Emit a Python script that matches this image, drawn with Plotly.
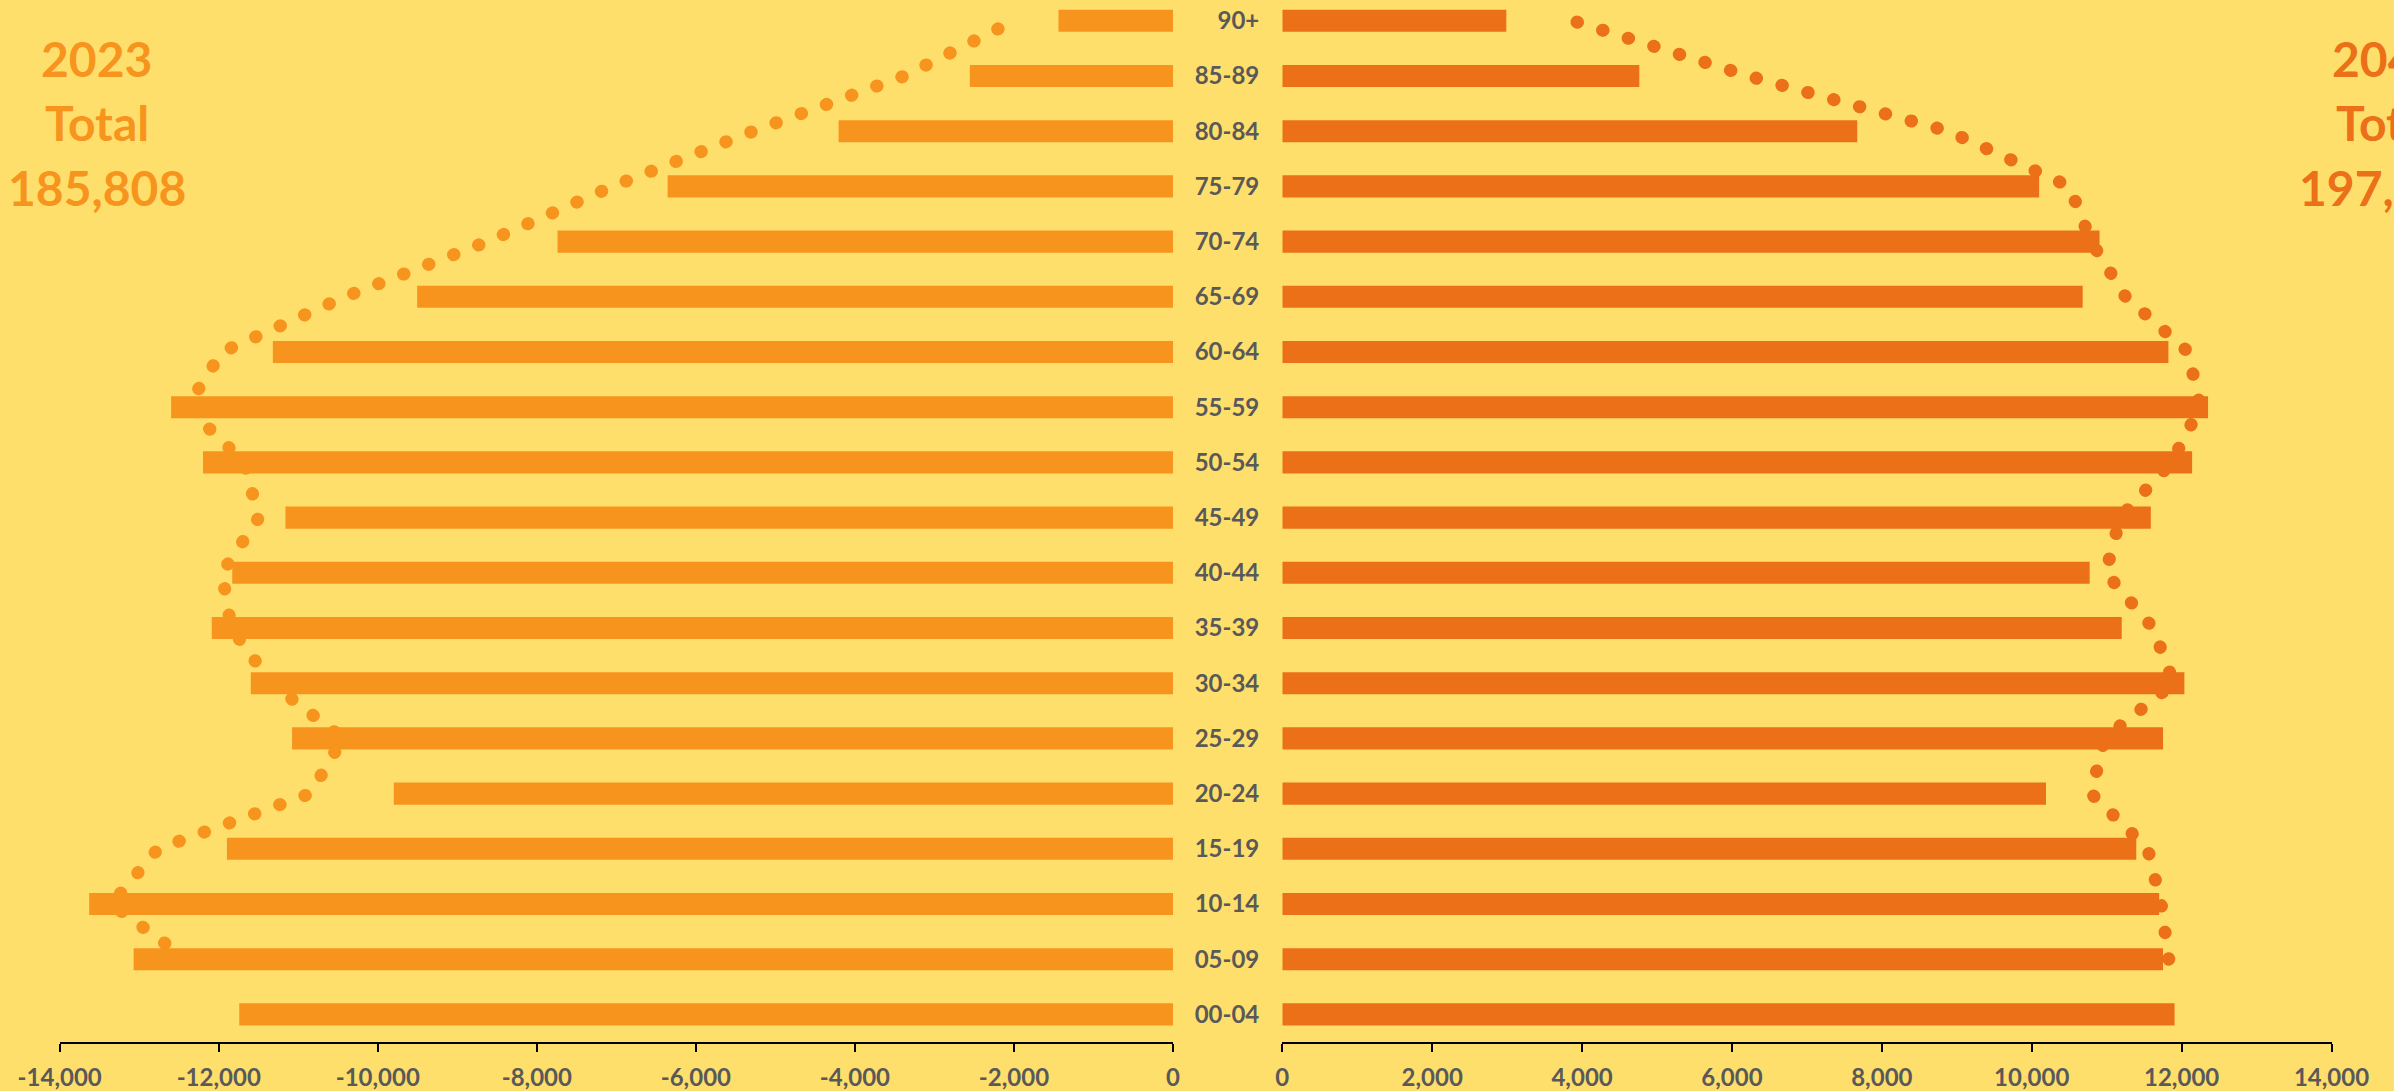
import plotly.graph_objects as go

# ---------------- data ----------------
age_groups = ["00-04", "05-09", "10-14", "15-19", "20-24", "25-29", "30-34",
              "35-39", "40-44", "45-49", "50-54", "55-59", "60-64", "65-69",
              "70-74", "75-79", "80-84", "85-89", "90+"]

pop_2023 = [11742, 13070, 13629, 11897, 9799, 11078, 11597, 12088, 11830, 11161,
            12198, 12599, 11320, 9505, 7740, 6355, 4205, 2555, 1440]
pop_2043 = [11906, 11752, 11701, 11395, 10190, 11752, 12037, 11201, 10773, 11589,
            12140, 12353, 11824, 10680, 10905, 10099, 7672, 4764, 2989]

# dotted trend lines (2-period moving average), read for 05-09 .. 90+
trend_groups = age_groups[1:]
trend_2023 = [12406, 13350, 12763, 10848, 10439, 11338, 11843, 11959, 11496,
              11680, 12399, 11960, 10413, 8623, 7048, 5280, 3380, 1998]
trend_2043 = [11829, 11727, 11548, 10793, 10971, 11895, 11619, 10987, 11181,
              11865, 12247, 12089, 11252, 10793, 10502, 8886, 6218, 3877]

left_tickvals = [-14000, -12000, -10000, -8000, -6000, -4000, -2000, 0]
left_ticktext = ["-14,000", "-12,000", "-10,000", "-8,000", "-6,000", "-4,000", "-2,000", "0"]
right_tickvals = [0, 2000, 4000, 6000, 8000, 10000, 12000, 14000]
right_ticktext = ["0", "2,000", "4,000", "6,000", "8,000", "10,000", "12,000", "14,000"]

left_title = ["2023", "Total", "185,808"]
right_title = ["2043", "Total", "197,722"]

# ---------------- style ----------------
BG = "#FFDF6C"
C_LEFT = "#F7941E"
C_RIGHT = "#EB7018"
GRAY = "#595959"
FONT = "Lato"
W, H = 2394, 1091
MB = 49
PH = H - MB

fig = go.Figure()

fig.add_trace(go.Scatter(
    x=[-v for v in trend_2023], y=trend_groups, xaxis="x", yaxis="y",
    mode="lines", line=dict(color=C_LEFT, width=13, dash="0.5px,26.3px"),
    hoverinfo="skip", showlegend=False))
fig.add_trace(go.Bar(
    x=[-v for v in pop_2023], y=age_groups, orientation="h", xaxis="x", yaxis="y",
    marker=dict(color=C_LEFT, line=dict(width=0)), width=0.4, showlegend=False))

fig.add_trace(go.Scatter(
    x=trend_2043, y=trend_groups, xaxis="x2", yaxis="y2",
    mode="lines", line=dict(color=C_RIGHT, width=13, dash="0.5px,26.3px"),
    hoverinfo="skip", showlegend=False))
fig.add_trace(go.Bar(
    x=pop_2043, y=age_groups, orientation="h", xaxis="x2", yaxis="y2",
    marker=dict(color=C_RIGHT, line=dict(width=0)), width=0.4, showlegend=False))

tickfont = dict(family=FONT, size=24, color=GRAY, weight="bold")
xcommon = dict(showgrid=False, zeroline=False, showline=True, linecolor="black",
               linewidth=2, ticks="outside", ticklen=8, tickwidth=2,
               tickcolor="black", tickfont=tickfont, ticklabelstandoff=5,
               fixedrange=True)
yrange = [-0.5, -0.5 + PH / 55.2]

fig.update_layout(
    width=W, height=H,
    margin=dict(l=0, r=0, t=0, b=MB, autoexpand=False),
    paper_bgcolor=BG, plot_bgcolor=BG,
    xaxis=dict(domain=[59.7 / W, 1173 / W], range=[-14000, 0],
               tickvals=left_tickvals, ticktext=left_ticktext, anchor="y", **xcommon),
    xaxis2=dict(domain=[1282.3 / W, 2331.5 / W], range=[0, 14000],
                tickvals=right_tickvals, ticktext=right_ticktext, anchor="y2", **xcommon),
    yaxis=dict(anchor="x", type="category", categoryorder="array",
               categoryarray=age_groups, range=yrange, showticklabels=False,
               showgrid=False, zeroline=False, showline=False, ticks="",
               fixedrange=True),
    yaxis2=dict(anchor="x2", type="category", categoryorder="array",
                categoryarray=age_groups, range=yrange, showticklabels=True,
                showgrid=False, zeroline=False, showline=False, ticks="",
                tickfont=tickfont, ticklabelstandoff=22, fixedrange=True),
    showlegend=False,
)

line_py = [58.5, 122.5, 187.5]
for txt, py in zip(left_title, line_py):
    fig.add_annotation(text=txt, xref="paper", yref="paper", x=96.5 / W,
                       y=(PH - py) / PH, xanchor="center", yanchor="middle",
                       showarrow=False,
                       font=dict(family=FONT, size=48, color=C_LEFT, weight="bold"))
for txt, py in zip(right_title, line_py):
    fig.add_annotation(text=txt, xref="paper", yref="paper", x=2387.5 / W,
                       y=(PH - py) / PH, xanchor="center", yanchor="middle",
                       showarrow=False,
                       font=dict(family=FONT, size=48, color=C_RIGHT, weight="bold"))

post = ("var s=document.createElement('style');"
        "s.textContent='.scatterlayer .js-line{stroke-linecap:round !important;}';"
        "document.head.appendChild(s);")

fig.write_html("out.html", post_script=post, config={"displayModeBar": False})
